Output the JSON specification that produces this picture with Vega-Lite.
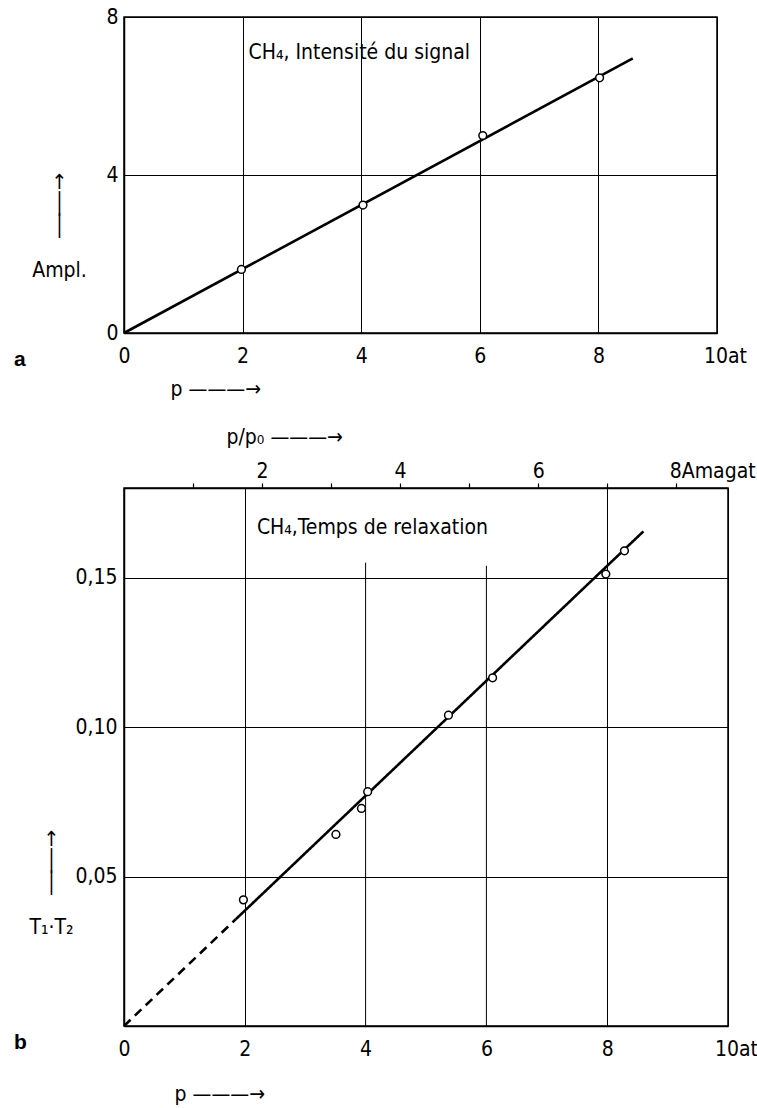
{
  "$schema": "https://vega.github.io/schema/vega-lite/v6.json",
  "padding": {"left": 13, "top": 5, "right": 2, "bottom": 2},
  "background": "white",
  "align": "none",
  "spacing": 25,
  "datasets": {
    "a_line": [{"p": 0, "amp": 0}, {"p": 8.58, "amp": 6.95}],
    "a_pts": [
      {"p": 1.98, "amp": 1.61},
      {"p": 4.03, "amp": 3.24},
      {"p": 6.05, "amp": 5.0},
      {"p": 8.02, "amp": 6.46}
    ],
    "a_note": [{"p": 2.1, "amp": 7.1, "label": "CH₄, Intensité du signal"}],
    "b_line": [
      {"seg": "dashed", "p": 0, "t": 0},
      {"seg": "dashed", "p": 1.85, "t": 0.0357},
      {"seg": "solid", "p": 1.85, "t": 0.0357},
      {"seg": "solid", "p": 8.6, "t": 0.1655}
    ],
    "b_pts": [
      {"p": 1.98, "am": 1.73, "t": 0.0422},
      {"p": 3.51, "am": 3.07, "t": 0.0641},
      {"p": 3.93, "am": 3.44, "t": 0.0728},
      {"p": 4.03, "am": 3.53, "t": 0.0784},
      {"p": 5.37, "am": 4.70, "t": 0.104},
      {"p": 6.10, "am": 5.34, "t": 0.1165},
      {"p": 7.98, "am": 6.98, "t": 0.1512},
      {"p": 8.28, "am": 7.25, "t": 0.159}
    ],
    "b_grid": [{"p": 4, "t0": 0, "t1": 0.155}, {"p": 6, "t0": 0, "t1": 0.154}],
    "b_note": [{"p": 2.2, "t": 0.1665, "label": "CH₄,Temps de relaxation"}]
  },
  "vconcat": [
    {
      "width": 593,
      "height": 316,
      "title": {"text": "a", "orient": "bottom", "anchor": "start", "frame": "group", "dx": -110, "offset": -50, "font": "Liberation Sans", "fontSize": 21, "fontWeight": "bold", "color": "black"},
      "layer": [
        {
          "data": {"name": "a_line"},
          "mark": {"type": "line", "color": "black", "strokeWidth": 2.6},
          "encoding": {
            "x": {"field": "p", "type": "quantitative", "scale": {"domain": [0, 10], "nice": false, "zero": false},
              "axis": {"values": [0, 2, 4, 6, 8, 10], "format": "d", "grid": true, "labelPadding": 12, "labelFlush": false,
                "labelExpr": "datum.value == 10 ? '10at' : datum.label",
                "labelOffset": {"condition": {"test": "datum.value == 10", "value": 8}, "value": 0},
                "title": "p ———→", "titleX": 46, "titleY": 56, "titleAlign": "left", "titleBaseline": "middle"}},
            "y": {"field": "amp", "type": "quantitative", "scale": {"domain": [0, 8], "nice": false},
              "axis": {"values": [0, 4, 8], "format": "d", "grid": true, "labelPadding": 6, "labelFlush": false,
                "title": ["↑", "│", "│", "\u2800", "Ampl."], "titleAngle": 0, "titleAlign": "center", "titleBaseline": "top", "titleX": -65, "titleY": 154, "titleLineHeight": 22}}
          }
        },
        {
          "data": {"name": "a_pts"},
          "mark": {"type": "point", "shape": "circle", "filled": true, "fill": "white", "stroke": "black", "strokeWidth": 1.5, "size": 60, "opacity": 1},
          "encoding": {
            "x": {"field": "p", "type": "quantitative"},
            "y": {"field": "amp", "type": "quantitative"}
          }
        },
        {
          "data": {"name": "a_note"},
          "mark": {"type": "text", "align": "left", "baseline": "middle", "fontSize": 21, "color": "black"},
          "encoding": {
            "x": {"field": "p", "type": "quantitative"},
            "y": {"field": "amp", "type": "quantitative"},
            "text": {"field": "label"}
          }
        }
      ]
    },
    {
      "width": 604,
      "height": 538,
      "title": {"text": "b", "orient": "bottom", "anchor": "start", "frame": "group", "dx": -110, "offset": -72, "font": "Liberation Sans", "fontSize": 21, "fontWeight": "bold", "color": "black"},
      "resolve": {"scale": {"x": "independent"}},
      "layer": [
        {
          "layer": [
            {
              "data": {"name": "b_line"},
              "mark": {"type": "line", "color": "black", "strokeWidth": 2.6},
              "encoding": {
                "x": {"field": "p", "type": "quantitative", "scale": {"domain": [0, 10], "nice": false, "zero": false},
                  "axis": {"values": [0, 2, 4, 6, 8, 10], "format": "d", "grid": true, "labelPadding": 12, "labelFlush": false,
                    "gridOpacity": {"condition": {"test": "datum.value == 4 || datum.value == 6", "value": 0}, "value": 1},
                    "labelExpr": "datum.value == 10 ? '10at' : datum.label",
                    "labelOffset": {"condition": {"test": "datum.value == 10", "value": 8}, "value": 0},
                    "title": "p ———→", "titleX": 50, "titleY": 68, "titleAlign": "left", "titleBaseline": "middle"}},
                "y": {"field": "t", "type": "quantitative", "scale": {"domain": [0, 0.18], "nice": false},
                  "axis": {"values": [0.05, 0.1, 0.15], "grid": true, "labelPadding": 7, "labelFlush": false,
                    "labelExpr": "replace(format(datum.value, '.2f'), '.', ',')",
                    "title": ["↑", "│", "│", "\u2800", "T₁·T₂"], "titleAngle": 0, "titleAlign": "center", "titleBaseline": "top", "titleX": -73, "titleY": 340, "titleLineHeight": 22}},
                "strokeDash": {"field": "seg", "type": "nominal", "scale": {"domain": ["dashed", "solid"], "range": [[9, 6], [1, 0]]}, "legend": null}
              }
            },
            {
              "data": {"name": "b_grid"},
              "mark": {"type": "rule", "color": "black", "strokeWidth": 1},
              "encoding": {
                "x": {"field": "p", "type": "quantitative"},
                "y": {"field": "t0", "type": "quantitative"},
                "y2": {"field": "t1"}
              }
            },
            {
              "data": {"name": "b_note"},
              "mark": {"type": "text", "align": "left", "baseline": "middle", "fontSize": 21, "color": "black"},
              "encoding": {
                "x": {"field": "p", "type": "quantitative"},
                "y": {"field": "t", "type": "quantitative"},
                "text": {"field": "label"}
              }
            }
          ]
        },
        {
          "data": {"name": "b_pts"},
          "mark": {"type": "point", "shape": "circle", "filled": true, "fill": "white", "stroke": "black", "strokeWidth": 1.5, "size": 60, "opacity": 1},
          "encoding": {
            "x": {"field": "am", "type": "quantitative", "scale": {"domain": [0, 8.75], "nice": false, "zero": false},
              "axis": {"orient": "top", "values": [1, 2, 3, 4, 5, 6, 7, 8], "format": "d", "grid": false, "ticks": true, "tickSize": 5, "tickWidth": 1.2, "labelPadding": 2, "labelFlush": false,
                "labelExpr": "datum.value % 2 == 0 ? (datum.value == 8 ? '8Amagat' : datum.label) : ''",
                "labelAlign": {"condition": {"test": "datum.value == 8", "value": "left"}, "value": "center"},
                "labelOffset": {"condition": {"test": "datum.value == 8", "value": -7}, "value": 0},
                "title": "p/p₀ ———→", "titleX": 102, "titleY": -51, "titleAlign": "left", "titleBaseline": "middle"}},
            "y": {"field": "t", "type": "quantitative"}
          }
        }
      ]
    }
  ],
  "config": {
    "font": "'DejaVu Sans Condensed', 'Liberation Sans', sans-serif",
    "view": {"stroke": "black", "strokeWidth": 1.5},
    "axis": {
      "labelFont": "'DejaVu Sans Condensed', 'Liberation Sans', sans-serif",
      "labelFontSize": 21,
      "labelColor": "black",
      "titleFont": "'DejaVu Sans Condensed', 'Liberation Sans', sans-serif",
      "titleFontSize": 21,
      "titleFontWeight": "normal",
      "titleColor": "black",
      "domainColor": "black",
      "domainWidth": 1.5,
      "gridColor": "black",
      "gridWidth": 1,
      "ticks": false,
      "tickColor": "black",
      "labelOverlap": false
    },
    "text": {"font": "'DejaVu Sans Condensed', 'Liberation Sans', sans-serif"}
  }
}
